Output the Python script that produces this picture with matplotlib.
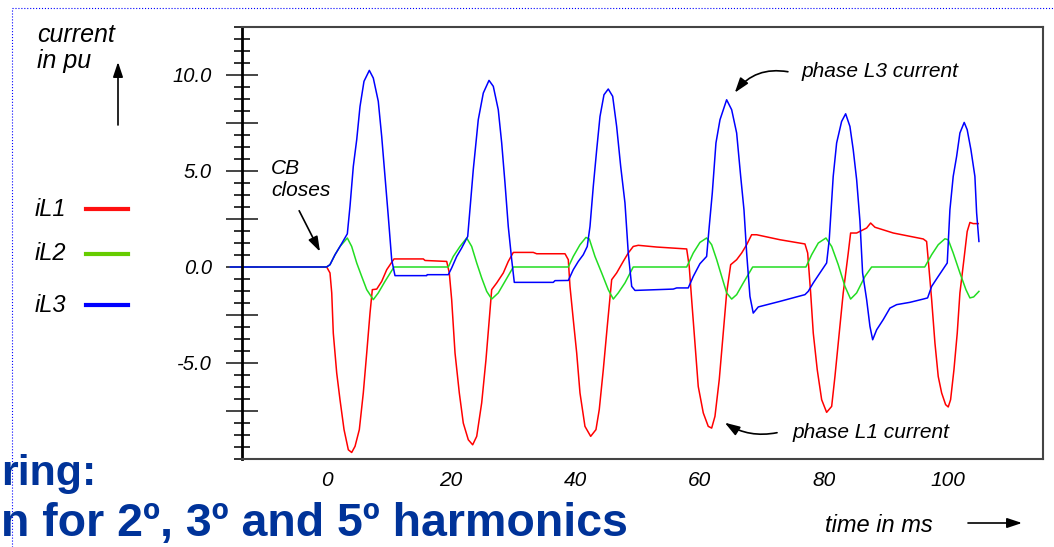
"""
Transformer inrush currents after CB closing (phases L1, L2, L3).
"""

import matplotlib
matplotlib.use("Agg")
import matplotlib.pyplot as plt
from matplotlib.lines import Line2D
from matplotlib.ticker import FixedLocator, FixedFormatter, MultipleLocator

plt.rcParams["font.family"] = ["Liberation Sans", "DejaVu Sans"]
plt.rcParams["font.style"] = "italic"

# ---- traces (time in ms, current in pu) ----
t_L1 = [-15.5, 0.03, 0.56, 0.84, 1.09, 1.64, 2.17, 2.82, 3.51, 4.05, 4.59, 5.28, 5.92, 6.47, 7.0,
        7.37, 8.08, 8.88, 9.69, 10.86, 15.58, 15.85, 19.34, 19.76, 20.14, 20.68, 21.37, 22.01,
        22.82, 23.52, 24.17, 24.97, 25.66, 26.19, 26.58, 27.39, 28.45, 29.25, 30.06, 33.27, 33.82,
        38.38, 38.91, 39.18, 39.71, 40.26, 40.79, 41.59, 42.51, 43.36, 43.89, 44.54, 45.18, 45.89,
        46.69, 47.75, 48.56, 49.36, 50.17, 53.13, 57.96, 58.37, 58.76, 59.29, 59.82, 60.63, 61.43,
        61.98, 62.51, 63.2, 63.75, 64.39, 65.04, 66.0, 66.81, 67.61, 68.41, 69.22, 72.97, 76.99,
        77.43, 77.91, 78.33, 78.97, 79.68, 80.48, 81.29, 81.82, 82.51, 83.15, 83.96, 84.34, 85.31,
        86.92, 87.56, 88.26, 91.21, 96.03, 96.57, 96.83, 97.38, 97.91, 98.44, 98.99, 99.63, 100.05,
        100.43, 100.97, 101.5, 101.93, 102.57, 103.1, 103.54, 104.07, 104.88]
i_L1 = [0, 0, -0.31, -1.35, -3.44, -5.52, -6.91, -8.47, -9.52, -9.66, -9.34, -8.47, -6.56, -4.48,
        -2.40, -1.18, -1.15, -0.75, -0.14, 0.42, 0.42, 0.34, 0.29, -0.31, -1.70, -4.48, -6.56,
        -8.13, -9.00, -9.26, -8.82, -7.08, -4.83, -2.74, -1.18, -0.83, -0.31, 0.29, 0.76, 0.76,
        0.69, 0.69, 0.38, -1.01, -2.74, -4.48, -6.56, -8.30, -8.82, -8.47, -7.43, -5.35, -3.09,
        -0.66, -0.31, 0.29, 0.73, 1.07, 1.13, 1.04, 0.94, 0.03, -1.70, -3.96, -6.22, -7.60, -8.30,
        -8.39, -7.78, -5.87, -3.79, -1.35, 0.12, 0.38, 0.73, 1.16, 1.68, 1.68, 1.42, 1.20, 0.73,
        -1.35, -3.44, -5.35, -6.91, -7.57, -7.26, -5.70, -3.44, -1.35, 0.73, 1.77, 1.77, 2.03,
        2.29, 2.07, 1.77, 1.46, 1.33, 0.38, -1.70, -3.96, -5.70, -6.56, -7.17, -7.29, -6.91,
        -5.35, -3.44, -1.35, 0.38, 1.85, 2.32, 2.26, 2.26]

t_L2 = [-15.5, 0.03, 0.56, 1.37, 2.17, 3.35, 4.05, 4.86, 5.66, 6.47, 7.53, 8.33, 9.41, 10.86,
        19.6, 20.4, 21.48, 22.56, 23.36, 24.17, 24.97, 25.78, 26.58, 27.64, 28.72, 30.06, 38.91,
        39.71, 40.79, 41.75, 42.29, 43.2, 44.28, 45.34, 46.15, 46.95, 48.03, 49.36, 57.96, 59.02,
        60.09, 61.17, 61.98, 62.79, 63.59, 64.39, 65.2, 66.0, 67.07, 68.58, 77.15, 78.07, 79.14,
        80.37, 81.29, 82.35, 83.43, 84.34, 85.31, 86.65, 87.72, 96.27, 97.38, 98.44, 99.52,
        100.05, 100.85, 101.93, 102.9, 103.54, 104.14, 104.99]
i_L2 = [0, 0, 0.12, 0.64, 1.07, 1.51, 1.07, 0.21, -0.49, -1.18, -1.70, -1.35, -0.75, 0, 0, 0.55,
        1.07, 1.51, 1.07, 0.21, -0.57, -1.27, -1.67, -1.35, -0.75, 0, 0, 0.55, 1.16, 1.54, 1.46,
        0.55, -0.31, -1.18, -1.67, -1.35, -0.83, 0, 0, 0.73, 1.28, 1.51, 1.16, 0.38, -0.49, -1.35,
        -1.67, -1.44, -0.83, 0, 0, 0.64, 1.25, 1.51, 1.07, 0.12, -1.01, -1.67, -1.35, -0.49, 0, 0,
        0.64, 1.16, 1.47, 1.42, 0.73, -0.31, -1.18, -1.61, -1.56, -1.27]

t_L3 = [-15.5, 0.0, 0.56, 1.37, 2.17, 3.35, 3.78, 4.31, 4.86, 5.39, 6.03, 6.89, 7.53, 8.33, 8.88,
        9.41, 9.94, 10.49, 11.02, 16.12, 16.2, 19.6, 20.14, 20.95, 21.75, 22.72, 23.62, 24.42,
        25.23, 26.15, 26.84, 27.64, 28.19, 28.72, 29.25, 29.8, 30.22, 36.49, 36.77, 38.91, 39.71,
        40.52, 41.32, 41.96, 42.4, 42.93, 43.48, 44.01, 44.65, 45.34, 46.05, 46.69, 47.34, 48.03,
        48.56, 49.11, 49.64, 55.8, 56.35, 58.21, 59.02, 60.09, 61.17, 61.59, 62.08, 62.67, 63.32,
        64.39, 65.2, 66.0, 66.65, 67.18, 67.61, 68.14, 68.67, 69.48, 72.97, 76.99, 77.52, 78.33,
        79.4, 80.48, 80.9, 81.54, 82.09, 82.89, 83.54, 84.23, 84.76, 85.31, 85.84, 86.27, 86.92,
        87.45, 87.89, 88.53, 89.59, 90.67, 91.75, 93.89, 96.03, 96.73, 97.38, 98.44, 99.89,
        100.32, 100.85, 101.4, 101.93, 102.62, 103.1, 103.7, 104.34, 104.62, 104.99]
i_L3 = [0, 0, 0.12, 0.64, 1.07, 1.73, 3.16, 5.24, 6.63, 8.36, 9.67, 10.24, 9.84, 8.63, 6.80, 4.72,
        2.64, 0.38, -0.45, -0.45, -0.40, -0.40, -0.05, 0.55, 0.99, 1.59, 5.07, 7.67, 9.06, 9.72,
        9.41, 8.19, 6.46, 4.38, 2.11, 0.38, -0.80, -0.80, -0.71, -0.70, -0.14, 0.29, 0.64, 1.07,
        2.11, 4.20, 6.11, 7.84, 8.97, 9.27, 8.89, 7.32, 5.24, 3.33, 0.73, -1.01, -1.22, -1.15,
        -1.09, -1.09, -0.49, 0.17, 0.55, 2.11, 3.85, 6.46, 7.67, 8.71, 8.19, 6.98, 4.72, 2.98,
        0.73, -1.53, -2.40, -2.08, -1.79, -1.44, -1.27, -0.83, -0.31, 0.21, 1.42, 4.72, 6.46,
        7.58, 7.98, 7.32, 6.11, 4.55, 2.40, -0.31, -1.70, -3.09, -3.79, -3.27, -2.74, -2.14,
        -1.96, -1.84, -1.67, -1.61, -1.01, -0.49, 0.21, 2.98, 4.72, 5.76, 6.98, 7.53, 7.15, 6.11,
        4.72, 2.81, 1.33]

series_names = ["iL1", "iL2", "iL3"]
line_colors = ["#ff0000", "#22dd22", "#0000ff"]
legend_colors = ["#ff1010", "#66cc00", "#0000ff"]

x_ticks = [0, 20, 40, 60, 80, 100]
y_major = [-7.5, -5, -2.5, 0, 2.5, 5, 7.5, 10]
y_labels = ["", "-5.0", "", "0.0", "", "5.0", "", "10.0"]

# ---- figure ----
W, H = 1054, 547
fig = plt.figure(figsize=(W / 100, H / 100), dpi=100)
ax = fig.add_axes([242 / W, 1 - 459 / H, (1043 - 242) / W, (459 - 27) / H])


def fp(x, y):
    """pixel position on the slide -> figure fraction"""
    return x / W, 1 - y / H


for t, i, c in zip([t_L1, t_L2, t_L3], [i_L1, i_L2, i_L3], line_colors):
    ax.plot(t, i, color=c, lw=1.1, clip_on=False)

ax.set_xlim(-13.6, 115.3)
ax.set_ylim(-10, 12.5)

ax.set_xticks(x_ticks)
ax.set_xticklabels([str(v) for v in x_ticks], fontsize=15)
ax.tick_params(axis="x", length=0, pad=9)

ax.yaxis.set_major_locator(FixedLocator(y_major))
ax.yaxis.set_major_formatter(FixedFormatter(y_labels))
ax.yaxis.set_minor_locator(MultipleLocator(0.625))
ax.tick_params(axis="y", which="major", direction="inout", length=23, width=1.4,
               color="#444444", pad=10, labelsize=14.5)
ax.tick_params(axis="y", which="minor", direction="inout", length=11, width=1.3,
               color="#222222")

for side in ["top", "right", "bottom"]:
    ax.spines[side].set_color("#444444")
    ax.spines[side].set_linewidth(1.5)
ax.spines["left"].set_color("black")
ax.spines["left"].set_linewidth(2)

# ---- annotations inside the plot ----
arrow = dict(arrowstyle="-|>,head_length=0.9,head_width=0.3", color="black", lw=1.2,
             shrinkA=0, shrinkB=0)
ax.text(-8.9, 4.55, "CB\ncloses", fontsize=15, ha="left", va="center", linespacing=1.2)
ax.annotate("", xy=(-1.05, 0.8), xytext=(-4.4, 2.93), arrowprops=arrow)

ax.text(76.5, 10.17, "phase L3 current", fontsize=15, ha="left", va="center")
ax.annotate("", xy=(65.7, 9.08), xytext=(74.25, 10.17),
            arrowprops=dict(arrow, connectionstyle="arc3,rad=0.3"))

ax.text(75.0, -8.6, "phase L1 current", fontsize=15, ha="left", va="center")
ax.annotate("", xy=(64.1, -8.11), xytext=(72.5, -8.63),
            arrowprops=dict(arrow, connectionstyle="arc3,rad=-0.2"))

# ---- axis captions ----
fig.text(*fp(37, 48), "current\nin pu", fontsize=18, ha="left", va="center", linespacing=1.15)
ax.annotate("", xy=fp(118, 62), xytext=fp(118, 125), xycoords="figure fraction",
            textcoords="figure fraction", arrowprops=arrow)

fig.text(*fp(825, 525), "time in ms", fontsize=17, ha="left", va="center")
ax.annotate("", xy=fp(1022, 523), xytext=fp(968, 523), xycoords="figure fraction",
            textcoords="figure fraction", arrowprops=arrow)

# ---- hand-drawn legend ----
legend_y = [209, 254, 305]
for name, col, y in zip(series_names, legend_colors, legend_y):
    fig.text(*fp(35, y), name, fontsize=17, ha="left", va="center")
    fig.add_artist(Line2D([86 / W, 128 / W], [1 - y / H, 1 - y / H], color=col, lw=3))

# ---- slide leftovers: cropped title and dotted frame ----
fig.text(*fp(1, 485), "ring:", fontsize=31, weight="bold", style="normal", color="#003399",
         ha="left", va="baseline")
fig.text(*fp(1, 536), "n for 2º, 3º and 5º harmonics", fontsize=33.5, weight="bold",
         style="normal", color="#003399", ha="left", va="baseline")
fig.add_artist(Line2D([12 / W, 1], [1 - 8 / H, 1 - 8 / H], color="blue", lw=0.8, ls=":"))
fig.add_artist(Line2D([12 / W, 12 / W], [0, 1 - 8 / H], color="blue", lw=0.8, ls=":"))

fig.savefig("out.png", dpi=100)
